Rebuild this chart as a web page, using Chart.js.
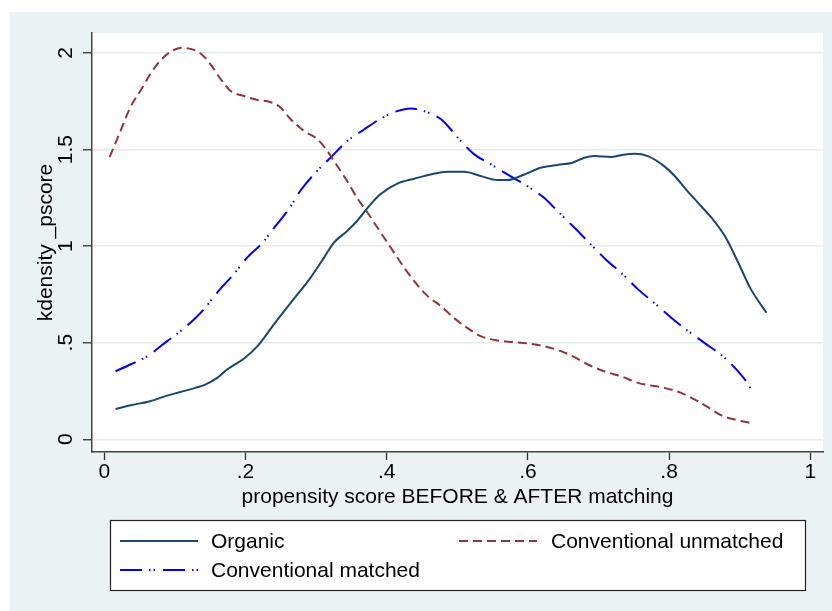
<!DOCTYPE html>
<html>
<head>
<meta charset="utf-8">
<title>kdensity pscore</title>
<script src="https://cdn.jsdelivr.net/npm/chart.js"></script>
<style>
  body { margin: 0; background: #ffffff; }
  #wrap { position: absolute; left: 10px; top: 12px; width: 822px; height: 599px; background: #eaf2f3; }
</style>
</head>
<body>
<div id="wrap"><canvas id="myChart" width="822" height="599"></canvas></div>
<script>
// values
const organicX = [0.016, 0.037, 0.065, 0.089, 0.108, 0.129, 0.143, 0.160, 0.174, 0.198, 0.217, 0.240, 0.264, 0.292, 0.311, 0.325, 0.344, 0.358, 0.373, 0.391, 0.415, 0.439, 0.462, 0.486, 0.510, 0.533, 0.557, 0.571, 0.595, 0.618, 0.642, 0.663, 0.680, 0.694, 0.718, 0.732, 0.751, 0.770, 0.793, 0.808, 0.822, 0.841, 0.860, 0.879, 0.897, 0.916, 0.938];
const organicY = [0.157, 0.176, 0.197, 0.226, 0.245, 0.266, 0.283, 0.318, 0.361, 0.418, 0.482, 0.594, 0.706, 0.836, 0.939, 1.017, 1.078, 1.130, 1.198, 1.268, 1.324, 1.349, 1.371, 1.385, 1.385, 1.363, 1.342, 1.342, 1.371, 1.406, 1.420, 1.432, 1.458, 1.466, 1.461, 1.471, 1.478, 1.466, 1.414, 1.363, 1.302, 1.224, 1.147, 1.052, 0.922, 0.776, 0.655];

const unmatchedX = [0.0075, 0.023, 0.037, 0.051, 0.065, 0.079, 0.094, 0.110, 0.124, 0.136, 0.150, 0.165, 0.179, 0.198, 0.217, 0.235, 0.250, 0.264, 0.283, 0.302, 0.316, 0.330, 0.344, 0.358, 0.373, 0.387, 0.406, 0.420, 0.439, 0.458, 0.477, 0.495, 0.514, 0.533, 0.557, 0.581, 0.604, 0.623, 0.647, 0.666, 0.685, 0.708, 0.732, 0.756, 0.793, 0.817, 0.836, 0.855, 0.874, 0.893, 0.914];
const unmatchedY = [1.461, 1.596, 1.720, 1.803, 1.890, 1.959, 2.007, 2.027, 2.019, 1.999, 1.944, 1.864, 1.803, 1.777, 1.757, 1.746, 1.717, 1.657, 1.596, 1.553, 1.492, 1.415, 1.337, 1.250, 1.173, 1.095, 0.991, 0.914, 0.819, 0.741, 0.689, 0.629, 0.577, 0.534, 0.511, 0.503, 0.494, 0.482, 0.456, 0.425, 0.387, 0.352, 0.326, 0.292, 0.266, 0.240, 0.206, 0.166, 0.124, 0.102, 0.085];

const matchedX = [0.016, 0.037, 0.061, 0.089, 0.108, 0.127, 0.141, 0.160, 0.183, 0.202, 0.224, 0.243, 0.261, 0.278, 0.299, 0.321, 0.344, 0.368, 0.391, 0.415, 0.434, 0.453, 0.477, 0.491, 0.505, 0.524, 0.548, 0.571, 0.595, 0.623, 0.642, 0.666, 0.689, 0.713, 0.732, 0.756, 0.779, 0.803, 0.827, 0.850, 0.879, 0.893, 0.909, 0.915];
const matchedY = [0.352, 0.387, 0.430, 0.508, 0.560, 0.620, 0.672, 0.760, 0.853, 0.939, 1.017, 1.106, 1.190, 1.288, 1.380, 1.460, 1.544, 1.604, 1.659, 1.699, 1.713, 1.699, 1.657, 1.604, 1.544, 1.475, 1.423, 1.371, 1.320, 1.250, 1.181, 1.095, 1.009, 0.922, 0.862, 0.776, 0.706, 0.629, 0.560, 0.499, 0.421, 0.370, 0.301, 0.266];

const seriesNames = ['Organic', 'Conventional unmatched', 'Conventional matched'];
const xTicks = [0, 0.2, 0.4, 0.6, 0.8, 1];
const yTicks = [0, 0.5, 1, 1.5, 2];

function pts(xs, ys) {
    return xs.map((x, i) => ({ x: x, y: ys[i] }));
}
function stataNum(v) {
    return String(v).replace(/^0\./, '.');
}

const FONT = "'Liberation Sans', Arial, sans-serif";
Chart.defaults.color = '#000';
Chart.defaults.font.family = FONT;

// white plot region
const plotBg = {
    id: 'plotBg',
    beforeDraw(chart) {
        const a = chart.chartArea, c = chart.ctx;
        c.save();
        c.fillStyle = '#ffffff';
        c.fillRect(a.left, a.top, a.right - a.left, a.bottom - a.top);
        c.restore();
    }
};

// stata style legend box under the plot
const boxLegend = {
    id: 'boxLegend',
    afterDraw(chart) {
        const c = chart.ctx;
        const ds = chart.data.datasets;
        c.save();
        c.fillStyle = '#ffffff';
        c.fillRect(100, 508, 695, 70);
        c.strokeStyle = '#222';
        c.lineWidth = 1.2;
        c.strokeRect(100.5, 508.5, 695, 70);
        const slots = [
            { sx: 110, tx: 201, y: 529 },   // Organic
            { sx: 449, tx: 541, y: 529 },   // unmatched
            { sx: 110, tx: 201, y: 558 }    // matched
        ];
        ds.forEach((d, i) => {
            const s = slots[i];
            c.beginPath();
            c.strokeStyle = d.borderColor;
            c.lineWidth = d.borderWidth;
            c.setLineDash(d.borderDash || []);
            c.moveTo(s.sx, s.y);
            c.lineTo(s.sx + 78, s.y);
            c.stroke();
            c.setLineDash([]);
            c.fillStyle = '#000';
            c.font = '21px ' + FONT;
            c.textBaseline = 'middle';
            c.fillText(d.label, s.tx, s.y + 1);
        });
        c.restore();
    }
};

const ctx = document.getElementById('myChart').getContext('2d');
const myChart = new Chart(ctx, {
    type: 'line',
    data: {
        datasets: [{
            label: seriesNames[0],
            data: pts(organicX, organicY),
            borderColor: '#1a476f',
            borderWidth: 2
        }, {
            label: seriesNames[1],
            data: pts(unmatchedX, unmatchedY),
            borderColor: '#90353b',
            borderWidth: 2,
            borderDash: [9, 5]
        }, {
            label: seriesNames[2],
            data: pts(matchedX, matchedY),
            borderColor: '#0000ff',
            borderWidth: 2,
            borderDash: [22, 7, 1.5, 3, 1.5, 8]
        }]
    },
    options: {
        responsive: false,
        animation: false,
        layout: { padding: { left: 0, top: 21, right: 9, bottom: 101.4 } },
        elements: {
            point: { radius: 0 },
            line: { tension: 0.4, cubicInterpolationMode: 'monotone' }
        },
        plugins: { legend: { display: false }, tooltip: { enabled: false } },
        scales: {
            x: {
                type: 'linear',
                min: -0.0174,
                max: 1.018,
                afterFit(s) { s.height = 57.6; },
                afterBuildTicks(s) { s.ticks = xTicks.map(v => ({ value: v })); },
                grid: { drawOnChartArea: false, tickLength: 8, tickColor: '#333', tickWidth: 1.3 },
                border: { color: '#444', width: 1.5 },
                ticks: { padding: 0, maxRotation: 0, font: { size: 21 }, callback: v => stataNum(v) },
                title: { display: true, text: 'propensity score BEFORE & AFTER matching', font: { size: 21 }, padding: 0 }
            },
            y: {
                min: -0.066,
                max: 2.1035,
                afterFit(s) { s.width = 82; },
                afterBuildTicks(s) { s.ticks = yTicks.map(v => ({ value: v })); },
                grid: { color: '#e4ecef', lineWidth: 1.5, tickLength: 9, tickColor: '#333', tickWidth: 1.3 },
                border: { color: '#444', width: 1.5 },
                ticks: { padding: 2, minRotation: 90, maxRotation: 90, crossAlign: 'center', font: { size: 21 }, callback: v => stataNum(v) },
                title: { display: true, text: 'kdensity _pscore', font: { size: 21 }, padding: { top: 24, bottom: 0 } }
            }
        }
    },
    plugins: [plotBg, boxLegend]
});
</script>
</body>
</html>
